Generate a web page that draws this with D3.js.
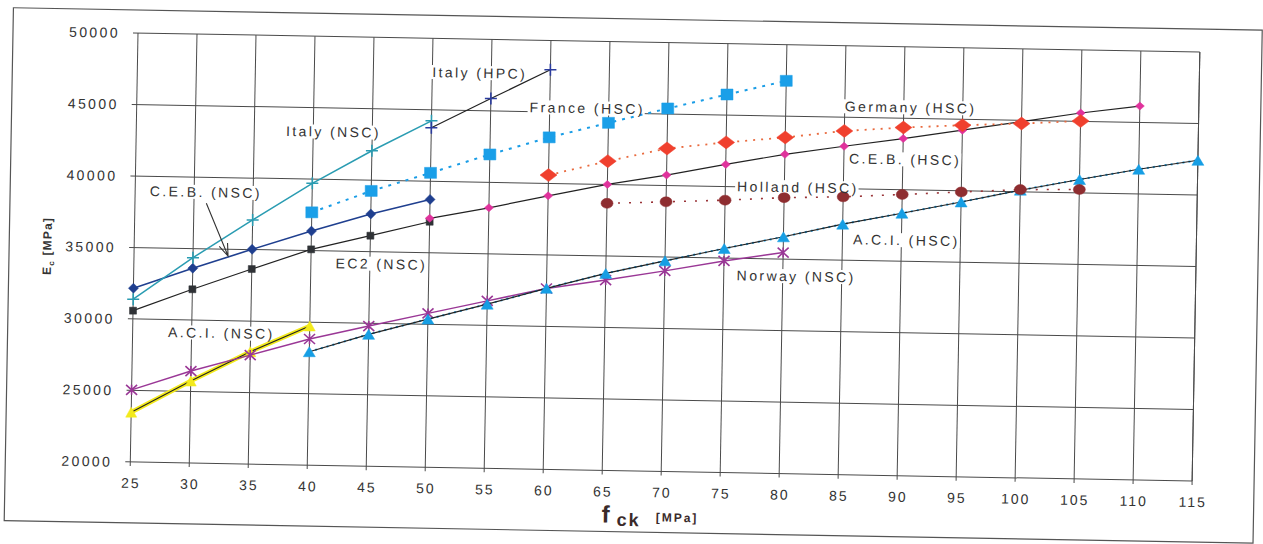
<!DOCTYPE html>
<html>
<head>
<meta charset="utf-8">
<script src="https://cdn.jsdelivr.net/npm/d3@7"></script>
<style>
  body { margin: 0; background: #fff; }
  svg { display: block; }
  text { font-family: "Liberation Sans", Arial, sans-serif; }
</style>
</head>
<body>
<script>
const width = 1263;
const height = 544;

// axis ticks
const xTicks = [25, 30, 35, 40, 45, 50, 55, 60, 65, 70, 75, 80, 85, 90, 95, 100, 105, 110, 115];
const yTicks = [20000, 25000, 30000, 35000, 40000, 45000, 50000];

// series values (fck in MPa, Ec in MPa)
const italyNscX = [25, 30, 35, 40, 45, 50];
const italyNscY = [31380, 34360, 37070, 39710, 42060, 44230];

const italyHpcX = [50, 55, 60];
const italyHpcY = [43740, 45860, 47950];

const franceX = [40, 45, 50, 55, 60, 65, 70, 75, 80];
const franceY = [37680, 39250, 40590, 41950, 43220, 44310, 45390, 46440, 47470];

const germanyX = [60, 65, 70, 75, 80, 85, 90, 95, 100, 105];
const germanyY = [40580, 41630, 42590, 43090, 43510, 44040, 44350, 44590, 44780, 45030];

const cebHscX = [50, 55, 60, 65, 70, 75, 80, 85, 90, 95, 100, 105, 110];
const cebHscY = [37410, 38220, 39130, 40000, 40730, 41550, 42330, 42970, 43580, 44240, 44920, 45590, 46150];

const cebNscX = [25, 30, 35, 40, 45, 50];
const cebNscY = [32150, 33620, 35020, 36370, 37640, 38730];

const ec2X = [25, 30, 35, 40, 45, 50];
const ec2Y = [30580, 32150, 33640, 35090, 36120, 37170];

const hollandX = [65, 70, 75, 80, 85, 90, 95, 100, 105];
const hollandY = [38680, 38860, 39050, 39300, 39430, 39670, 39920, 40160, 40240];

const aciHscX = [40, 45, 50, 55, 60, 65, 70, 75, 80, 85, 90, 95, 100, 105, 110, 115];
const aciHscY = [27930, 29220, 30360, 31480, 32660, 33780, 34730, 35670, 36560, 37520, 38360, 39220, 40120, 40940, 41730, 42430];

const aciNscX = [25, 30, 35, 40];
const aciNscY = [23480, 25730, 27860, 29730];

const norwayX = [25, 30, 35, 40, 45, 50, 55, 60, 65, 70, 75, 80];
const norwayY = [25040, 26430, 27620, 28820, 29800, 30760, 31710, 32650, 33310, 34030, 34800, 35460];

// curve labels: text, fck, Ec (left edge, vertical middle)
const labelText = ["Italy (HPC)", "France (HSC)", "Germany (HSC)", "Italy (NSC)", "C.E.B. (HSC)",
  "C.E.B. (NSC)", "Holland (HSC)", "A.C.I. (HSC)", "EC2 (NSC)", "Norway (NSC)", "A.C.I. (NSC)"];
const labelX = [50.0, 58.3, 85.0, 37.7, 85.45, 26.25, 76.0, 85.9, 42.1, 76.1, 28.0];
const labelY = [47640, 45310, 45770, 43340, 42130, 38970, 40040, 36480, 34160, 33820, 29130];

// arrow from the C.E.B. (NSC) label to its curve
const arrowX = [31.05, 32.97];
const arrowY = [38180, 34520];

// plot geometry (the scan is tilted about 1 degree)
const plot = { left: 138, top: 33, w: 1062, h: 429, tilt: 1.03 };

let svg = d3.select("body").append("svg")
  .attr("width", width)
  .attr("height", height);

svg.append("rect").attr("width", width).attr("height", height).attr("fill", "#fff");

let g = svg.append("g")
  .attr("transform", `translate(${plot.left},${plot.top}) rotate(${plot.tilt})`);

let x = d3.scaleLinear().domain([25, 115]).range([0, plot.w]);
let y = d3.scaleLinear().domain([20000, 50000]).range([plot.h, 0]);

// outer frame of the figure
g.append("rect")
  .attr("x", -125).attr("y", -23)
  .attr("width", 1249).attr("height", 513)
  .attr("fill", "none")
  .attr("stroke", "#555")
  .attr("stroke-width", 1.2);

// grid
let grid = g.append("g").attr("stroke", "#4a4a4a").attr("stroke-width", 1);
grid.selectAll(".vx").data(xTicks).join("line")
  .attr("x1", d => x(d)).attr("x2", d => x(d))
  .attr("y1", 0).attr("y2", plot.h + 4);
grid.selectAll(".hy").data(yTicks).join("line")
  .attr("x1", -5).attr("x2", plot.w)
  .attr("y1", d => y(d)).attr("y2", d => y(d));
grid.append("line").attr("x1", plot.w).attr("x2", plot.w).attr("y1", 0).attr("y2", plot.h);

// tick labels
g.append("g").selectAll("text").data(yTicks).join("text")
  .attr("x", -18).attr("y", d => y(d))
  .attr("dy", "0.36em")
  .attr("text-anchor", "end")
  .attr("font-size", 14)
  .attr("letter-spacing", 2.4)
  .attr("fill", "#333")
  .text(d => d);

g.append("g").selectAll("text").data(xTicks).join("text")
  .attr("x", d => x(d) + 1).attr("y", plot.h + 26)
  .attr("text-anchor", "middle")
  .attr("font-size", 14)
  .attr("letter-spacing", 2)
  .attr("fill", "#333")
  .text(d => d);

// axis titles
let yTitle = g.append("text")
  .attr("transform", `translate(-87,${y(35000)}) rotate(-90)`)
  .attr("text-anchor", "middle")
  .attr("dy", "0.35em")
  .attr("font-size", 12)
  .attr("font-weight", "bold")
  .attr("letter-spacing", 1.2)
  .attr("fill", "#333");
yTitle.append("tspan").text("E");
yTitle.append("tspan").attr("font-size", 8).attr("dy", 3).text("c");
yTitle.append("tspan").attr("dy", -3).text(" [MPa]");

let xTitle = g.append("text")
  .attr("x", x(65.03)).attr("y", plot.h + 52)
  .attr("fill", "#3a2a2a")
  .attr("font-weight", "bold");
xTitle.append("tspan").attr("font-size", 24).text("f");
xTitle.append("tspan").attr("font-size", 18).attr("dx", 7).attr("dy", 3).attr("letter-spacing", 2).text("ck");
xTitle.append("tspan").attr("font-size", 12).attr("dx", 15).attr("dy", -5).attr("letter-spacing", 2).text("[MPa]");

// label backgrounds, drawn below the curves
let labelBg = g.append("g");
let curves = g.append("g");
let labelLayer = g.append("g");

// markers
function markerPath(type, w, h) {
  if (type === "diamond") return `M0,${-h / 2}L${w / 2},0L0,${h / 2}L${-w / 2},0Z`;
  if (type === "square") return `M${-w / 2},${-h / 2}h${w}v${h}h${-w}Z`;
  if (type === "triangle") return `M0,${-h / 2}L${w / 2},${h / 2}L${-w / 2},${h / 2}Z`;
  if (type === "plus") return `M${-w / 2},0H${w / 2}M0,${-h / 2}V${h / 2}`;
  if (type === "star") return `M${-w / 2},${-h / 2}L${w / 2},${h / 2}M${-w / 2},${h / 2}L${w / 2},${-h / 2}M0,${-h / 2}V${h / 2}`;
  if (type === "circle") return `M${-w / 2},0A${w / 2},${h / 2} 0 1,0 ${w / 2},0A${w / 2},${h / 2} 0 1,0 ${-w / 2},0Z`;
}

const seriesList = [
  { xs: aciNscX, ys: aciNscY, lines: [{ c: "#f3ea1c", w: 4.5 }, { c: "#222", w: 1.1 }], m: "triangle", mc: "#f3ea1c", mw: 11, mh: 10 },
  { xs: norwayX, ys: norwayY, lines: [{ c: "#9a3796", w: 1.5 }], m: "star", mc: "#9a3796", mw: 11, mh: 10, stroke: true },
  { xs: aciHscX, ys: aciHscY, lines: [{ c: "#1ea0e4", w: 2, dash: "2,4" }, { c: "#222", w: 1.1 }], m: "triangle", mc: "#169ee4", mw: 12, mh: 10 },
  { xs: hollandX, ys: hollandY, lines: [{ c: "#9a3438", w: 1.6, dash: "2,9" }], m: "circle", mc: "#8e2d30", mw: 12, mh: 10 },
  { xs: ec2X, ys: ec2Y, lines: [{ c: "#222", w: 1.2 }], m: "square", mc: "#2f3236", mw: 7, mh: 7 },
  { xs: cebHscX, ys: cebHscY, lines: [{ c: "#222", w: 1.2 }], m: "diamond", mc: "#e0329c", mw: 9, mh: 8 },
  { xs: cebNscX, ys: cebNscY, lines: [{ c: "#1f3f8f", w: 1.6 }], m: "diamond", mc: "#1f3f8f", mw: 10, mh: 10 },
  { xs: germanyX, ys: germanyY, lines: [{ c: "#e96a3e", w: 1.8, dash: "2,6" }], m: "diamond", mc: "#f0402e", mw: 17, mh: 13 },
  { xs: franceX, ys: franceY, lines: [{ c: "#1a9de6", w: 2, dash: "3,6" }], m: "square", mc: "#1a9fe8", mw: 12, mh: 11 },
  { xs: italyNscX, ys: italyNscY, lines: [{ c: "#2a9cb2", w: 1.5 }], m: "plus", mc: "#2a9cb2", mw: 12, mh: 12, stroke: true },
  { xs: italyHpcX, ys: italyHpcY, lines: [{ c: "#222", w: 1.2 }], m: "plus", mc: "#2b3c9e", mw: 12, mh: 12, stroke: true }
];

let line = d3.line().x(d => x(d[0])).y(d => y(d[1]));

seriesList.forEach(s => {
  let pts = s.xs.map((v, i) => [v, s.ys[i]]);
  let sg = curves.append("g");
  s.lines.forEach(l => {
    sg.append("path")
      .datum(pts)
      .attr("d", line)
      .attr("fill", "none")
      .attr("stroke", l.c)
      .attr("stroke-width", l.w)
      .attr("stroke-dasharray", l.dash || null);
  });
  sg.selectAll(".mk").data(pts).join("path")
    .attr("transform", d => `translate(${x(d[0])},${y(d[1])}) rotate(${-plot.tilt})`)
    .attr("d", markerPath(s.m, s.mw, s.mh))
    .attr("fill", s.stroke ? "none" : s.mc)
    .attr("stroke", s.mc)
    .attr("stroke-width", s.stroke ? 1.6 : 0.5);
});

// arrow for C.E.B. (NSC)
let ax0 = x(arrowX[0]), ay0 = y(arrowY[0]), ax1 = x(arrowX[1]), ay1 = y(arrowY[1]);
let ang = Math.atan2(ay1 - ay0, ax1 - ax0);
let head = 13;
labelLayer.append("path")
  .attr("d", `M${ax0},${ay0}L${ax1},${ay1}` +
    `M${ax1 - head * Math.cos(ang - 0.35)},${ay1 - head * Math.sin(ang - 0.35)}L${ax1},${ay1}` +
    `L${ax1 - head * Math.cos(ang + 0.35)},${ay1 - head * Math.sin(ang + 0.35)}`)
  .attr("fill", "none")
  .attr("stroke", "#333")
  .attr("stroke-width", 1.1);

// curve labels
labelText.forEach((t, i) => {
  let tx = labelLayer.append("text")
    .attr("x", x(labelX[i])).attr("y", y(labelY[i]))
    .attr("dy", "0.36em")
    .attr("font-size", 14)
    .attr("letter-spacing", 2.4)
    .attr("fill", "#333")
    .text(t);
  let b = tx.node().getBBox();
  labelBg.append("rect")
    .attr("x", b.x - 2).attr("y", b.y + 1)
    .attr("width", b.width + 2).attr("height", b.height - 2)
    .attr("fill", "#fff");
});
</script>
</body>
</html>
